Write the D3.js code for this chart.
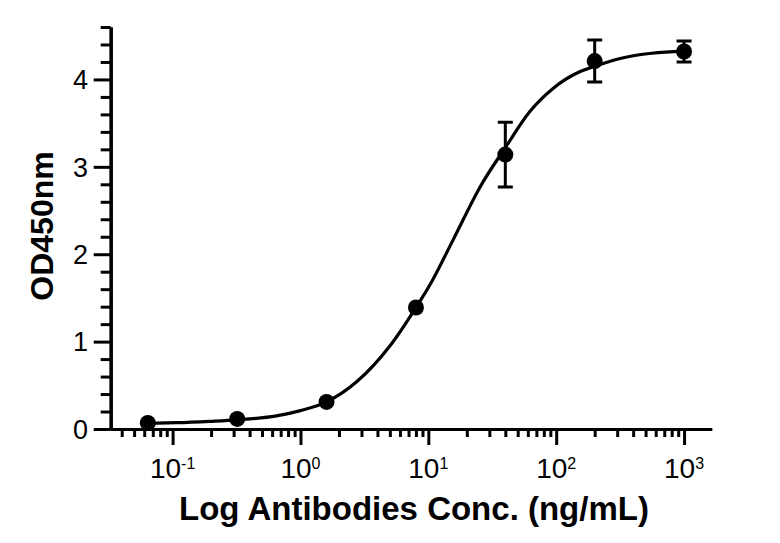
<!DOCTYPE html>
<html>
<head>
<meta charset="utf-8">
<script src="https://cdn.jsdelivr.net/npm/d3@7"></script>
<style>
  body { margin: 0; background: #fff; }
  text { font-family: "Liberation Sans", Arial, sans-serif; fill: #000; }
</style>
</head>
<body>
<svg id="vis"></svg>
<script>
const svg = d3.select("#vis").attr("width", 780).attr("height", 543);

// measured points (mean, sd)
const conc = [0.064, 0.32, 1.6, 8, 40, 200, 1000];
const od = [0.07, 0.115, 0.31, 1.39, 3.14, 4.21, 4.32];
const sd = [0, 0, 0, 0, 0.37, 0.24, 0.12];

// fitted curve
const fitConc = [0.064, 0.107, 0.196, 0.32, 0.65, 1.0, 1.6, 2.75, 5, 8, 10.3, 15.7, 25.4, 40, 62, 95, 154, 200, 316, 560, 1000];
const fitOd = [0.065, 0.072, 0.088, 0.105, 0.15, 0.21, 0.31, 0.54, 0.95, 1.39, 1.65, 2.17, 2.77, 3.22, 3.63, 3.9, 4.09, 4.15, 4.24, 4.3, 4.32];

const xMajor = [0.1, 1, 10, 100, 1000];
const xMajorExp = ["-1", "0", "1", "2", "3"];
const yMajor = [0, 1, 2, 3, 4];

const xTitle = "Log Antibodies Conc. (ng/mL)";
const yTitle = "OD450nm";

let xscale = d3.scaleLog()
            .domain([0.0328, 1645])
            .range([110.7, 711.7]);

let yscale = d3.scaleLinear()
            .domain([0, 4.6])
            .range([429, 27]);

const AXIS_W = 3.2;


function main() {
    drawAxes();
    drawCurve();
    drawPoints();
    drawTitles();
}


function styleAxis(g) {
    g.select(".domain").attr("stroke-width", AXIS_W).attr("stroke", "#000");
    g.selectAll(".tick line").attr("stroke-width", 3).attr("stroke", "#000");
}


function drawAxes() {
    let xMinor = [];
    [0.01, 0.1, 1, 10, 100, 1000].forEach(d => {
        for (let k = 2; k <= 9; k++) {
            const v = d * k;
            if (v >= xscale.domain()[0] && v <= xscale.domain()[1]) xMinor.push(v);
        }
    });
    let yMinor = d3.range(0, 4.61, 0.2).filter(v => Math.abs(v - Math.round(v)) > 0.01);

    svg.append("g")
        .attr("transform", "translate(0," + yscale(0) + ")")
        .call(d3.axisBottom(xscale).tickValues(xMinor).tickSize(8).tickSizeOuter(0).tickFormat(""))
        .call(styleAxis);
    svg.append("g")
        .attr("transform", "translate(0," + yscale(0) + ")")
        .call(d3.axisBottom(xscale).tickValues(xMajor).tickSize(16).tickSizeOuter(0).tickFormat(""))
        .call(styleAxis);

    svg.append("g")
        .attr("transform", "translate(" + xscale.range()[0] + ",0)")
        .call(d3.axisLeft(yscale).tickValues(yMinor).tickSize(10).tickSizeOuter(0).tickFormat(""))
        .call(styleAxis);
    svg.append("g")
        .attr("transform", "translate(" + xscale.range()[0] + ",0)")
        .call(d3.axisLeft(yscale).tickValues(yMajor).tickSize(17).tickSizeOuter(0).tickFormat(""))
        .call(styleAxis);

    // y tick labels
    svg.selectAll(".ylab").data(yMajor).join("text")
        .attr("class", "ylab")
        .attr("x", 88)
        .attr("y", d => yscale(d))
        .attr("dy", "0.36em")
        .attr("text-anchor", "end")
        .style("font-size", "27px")
        .text(d => d);

    // x tick labels, 10 with superscript exponent
    const xl = svg.selectAll(".xlab").data(xMajor).join("text")
        .attr("class", "xlab")
        .attr("x", d => xscale(d))
        .attr("y", 478)
        .attr("text-anchor", "middle")
        .style("font-size", "28px");
    xl.append("tspan").text("10");
    xl.append("tspan")
        .attr("dy", -9)
        .style("font-size", "16px")
        .text((d, i) => xMajorExp[i]);
}


function drawCurve() {
    const line = d3.line()
        .x(d => xscale(d[0]))
        .y(d => yscale(d[1]))
        .curve(d3.curveMonotoneX);
    svg.append("path")
        .datum(d3.zip(fitConc, fitOd))
        .attr("fill", "none")
        .attr("stroke", "#000")
        .attr("stroke-width", 3.2)
        .attr("d", line);
}


function drawPoints() {
    const DOTSIZE = 8;
    const CAP = 7.5;
    const pointData = conc.map((c, i) => ({x: c, y: od[i], e: sd[i]}));
    const withErr = pointData.filter(d => d.e > 0);

    svg.selectAll(".err").data(withErr).join("path")
        .attr("class", "err")
        .attr("fill", "none")
        .attr("stroke", "#000")
        .attr("stroke-width", 3)
        .attr("d", d => {
            const x = xscale(d.x), y0 = yscale(d.y - d.e), y1 = yscale(d.y + d.e);
            return "M" + (x - CAP) + "," + y1 + "H" + (x + CAP)
                + "M" + x + "," + y1 + "V" + y0
                + "M" + (x - CAP) + "," + y0 + "H" + (x + CAP);
        });

    svg.selectAll(".points").data(pointData).join("circle")
        .attr("class", "points")
        .attr("fill", "#000")
        .attr("cx", d => xscale(d.x))
        .attr("cy", d => yscale(d.y))
        .attr("r", DOTSIZE);
}


function drawTitles() {
    svg.append("text")
        .attr("x", 414)
        .attr("y", 520)
        .attr("text-anchor", "middle")
        .style("font-size", "33px")
        .style("font-weight", "bold")
        .text(xTitle);

    svg.append("text")
        .attr("transform", "translate(53,226) rotate(-90)")
        .attr("text-anchor", "middle")
        .style("font-size", "32px")
        .style("font-weight", "bold")
        .text(yTitle);
}


main();
</script>
</body>
</html>
